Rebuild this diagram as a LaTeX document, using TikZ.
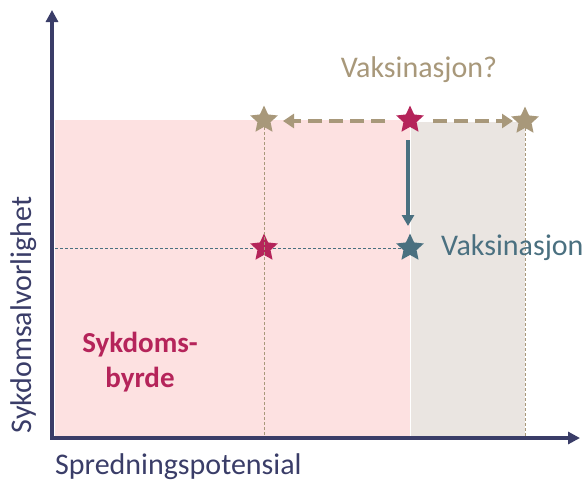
\documentclass[tikz,border=0pt]{standalone}
\usepackage{fontspec}
\setmainfont{Carlito}
\usetikzlibrary{shapes.geometric,arrows.meta}
\definecolor{navy}{RGB}{58,61,104}
\definecolor{tan}{RGB}{168,152,122}
\definecolor{mag}{RGB}{181,36,90}
\definecolor{teal}{RGB}{74,112,128}
\definecolor{pinkbg}{RGB}{253,225,225}
\definecolor{graybg}{RGB}{234,229,225}
\tikzset{
  starnode/.style={star, star points=5, star point ratio=2.1, minimum size=29pt, inner sep=0pt, draw=none, fill=#1},
  axisline/.style={navy, line width=3.5pt, -{Triangle[length=12pt,width=12pt]}},
  guide/.style={tan, line width=0.8pt, dash pattern=on 3pt off 2pt},
  tguide/.style={teal, line width=0.8pt, dash pattern=on 3pt off 2pt},
  bigdash/.style={tan, line width=4.2pt, dash pattern=on 14pt off 7pt, -{Triangle[length=11pt,width=14pt]}},
  lbl/.style={inner sep=0pt, font=\fontsize{30}{36}\selectfont}
}
\begin{document}
\begin{tikzpicture}[x=1pt,y=-1pt]
\useasboundingbox (0,0) rectangle (587,483);
% backgrounds
\fill[pinkbg] (55,120) rectangle (410,436);
\fill[graybg] (411,122) rectangle (525,436);
% stars
\node[starnode=tan] (s1) at (264,120) {};
\node[starnode=mag] (s2) at (410,120) {};
\node[starnode=tan] (s3) at (525,121) {};
\node[starnode=mag] (s4) at (264,248) {};
\node[starnode=teal] (s5) at (410,248) {};
\coordinate (b1) at (264,436);
\coordinate (b3) at (525,436);
\coordinate (l4) at (55,248);
\coordinate (a1s) at (385,121);
\coordinate (a1e) at (283,121);
\coordinate (a2s) at (433,121);
\coordinate (a2e) at (513,121);
\coordinate (ds) at (408,140);
\coordinate (de) at (408,226);
% guides
\draw[guide] (s1) -- (b1);
\draw[guide] (s3) -- (b3);
\draw[tguide] (l4) -- (s4);
\draw[tguide] (s4) -- (s5);
% arrows
\draw[bigdash] (a1s) -- (a1e);
\draw[bigdash] (a2s) -- (a2e);
\draw[teal, line width=3.2pt, -{Triangle[length=11pt,width=12pt]}] (ds) -- (de);
% axes
\coordinate (o) at (52,438);
\coordinate (ytip) at (52,10);
\coordinate (xtip) at (580,438);
\draw[axisline] ([yshift=1.75pt]o) -- (ytip);
\draw[axisline] ([xshift=-1.75pt]o) -- (xtip);
% labels
\node[lbl, text=tan] (q) at (419,70) {Vaksinasjon?};
\node[lbl, text=teal, anchor=west] (v) at (441,248) {Vaksinasjon};
\node[lbl, text=mag, font=\fontsize{29}{35}\selectfont\bfseries, align=center] (sb) at (140,362) {Sykdoms-\\byrde};
\node[lbl, text=navy, rotate=90] (ya) at (24,315) {Sykdomsalvorlighet};
\node[lbl, text=navy, anchor=west] (xa) at (55,467) {Spredningspotensial};
\end{tikzpicture}
\end{document}
